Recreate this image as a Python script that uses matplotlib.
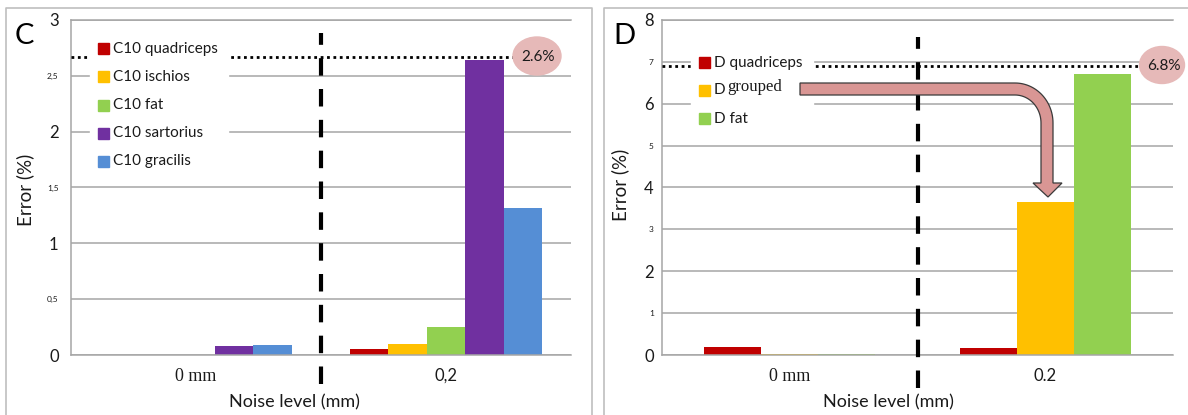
import numpy as np
import matplotlib.pyplot as plt
from matplotlib.patches import Rectangle, Ellipse, Polygon

# panel C data
groups_c = ["0 mm", "0,2"]
names_c = ["C10 quadriceps", "C10 ischios", "C10 fat", "C10 sartorius", "C10 gracilis"]
vals_c = [[0.0, 0.054],
          [0.0, 0.098],
          [0.0, 0.253],
          [0.083, 2.64],
          [0.09, 1.32]]
cols_c = ["#C00000", "#FFC000", "#92D050", "#7030A0", "#558ED5"]
yt_c = [0, 0.5, 1, 1.5, 2, 2.5, 3]
ytl_c = ["0", "0,5", "1", "1,5", "2", "2,5", "3"]
ref_c, ref_c_txt = 2.67, "2.6%"

# panel D data
groups_d = ["0 mm", "0.2"]
names_d = ["D quadriceps", "D grouped", "D fat"]
vals_d = [[0.18, 0.17],
          [0.03, 3.66],
          [0.03, 6.72]]
cols_d = ["#C00000", "#FFC000", "#92D050"]
yt_d = [0, 1, 2, 3, 4, 5, 6, 7, 8]
ytl_d = ["0", "1", "2", "3", "4", "5", "6", "7", "8"]
ref_d, ref_d_txt = 6.89, "6.8%"

W, H = 1188, 415
plt.rcParams['font.family'] = ['Lato', 'DejaVu Sans']
fig = plt.figure(figsize=(W / 100, H / 100), dpi=100)

grid_col = "#A6A6A6"
txt_col = "#1a1a1a"


def setup(ax, groups, yt, ytl, top, big_every, pad, serif_first):
    ax.set_xlim(-0.5, 1.5)
    ax.set_ylim(0, top)
    ax.set_axisbelow(True)
    ax.yaxis.grid(True, color=grid_col, lw=1.1)
    for s in ["top", "right"]:
        ax.spines[s].set_visible(False)
    for s in ["left", "bottom"]:
        ax.spines[s].set_color(grid_col)
        ax.spines[s].set_linewidth(1.1)
    ax.axhline(top, color=grid_col, lw=1.1, clip_on=False)
    ax.tick_params(length=0)
    ax.set_yticks(yt)
    ax.set_yticklabels(ytl)
    ax.tick_params(axis="y", pad=pad)
    for i, lab in enumerate(ax.get_yticklabels()):
        lab.set_color(txt_col)
        lab.set_fontsize(12 if i % big_every == 0 else 6)
    ax.set_xticks([0, 1])
    ax.set_xticklabels(groups)
    ax.tick_params(axis="x", pad=9)
    for i, lab in enumerate(ax.get_xticklabels()):
        lab.set_fontsize(12)
        lab.set_color(txt_col)
        if i == 0 and serif_first:
            lab.set_family("Liberation Serif")
            lab.set_fontsize(13)


# ---- panel C
axC = fig.add_axes([70.5 / W, 1 - 355 / H, 500.5 / W, 335 / H])
w = 0.154
for i in range(len(names_c)):
    axC.bar(np.arange(2) + (i - 2) * w, vals_c[i], w, color=cols_c[i], zorder=2)
setup(axC, groups_c, yt_c, ytl_c, 3, 2, 8.5, True)
axC.plot([0.5, 0.5], [-0.26, 2.88], color="k", lw=3, ls=(0, (4.2, 3.2)),
         clip_on=False, zorder=3)
axC.plot([-0.5, 1.27], [ref_c, ref_c], color="k", lw=2, ls=(0, (1, 1.3)),
         clip_on=False, zorder=3)
axC.text(0.447, -0.14, "Noise level (mm)", transform=axC.transAxes,
         ha="center", va="center", fontsize=13, color=txt_col)

# ---- panel D
axD = fig.add_axes([662 / W, 1 - 355 / H, 511 / W, 335 / H])
w = 0.223
for i in range(len(names_d)):
    axD.bar(np.arange(2) + (i - 1) * w, vals_d[i], w, color=cols_d[i], zorder=2)
setup(axD, groups_d, yt_d, ytl_d, 8, 2, 6, True)
axD.plot([0.5, 0.5], [-0.79, 7.59], color="k", lw=3, ls=(0, (4.2, 3.2)),
         clip_on=False, zorder=3)
axD.plot([-0.5, 1.43], [ref_d, ref_d], color="k", lw=2, ls=(0, (1, 1.3)),
         clip_on=False, zorder=3)
axD.text(0.444, -0.14, "Noise level (mm)", transform=axD.transAxes,
         ha="center", va="center", fontsize=13, color=txt_col)

# ---- overlay in pixel coordinates for legends, frames and callouts
ov = fig.add_axes([0, 0, 1, 1], zorder=5)
ov.set_xlim(0, W)
ov.set_ylim(H, 0)
ov.axis("off")
ov.patch.set_visible(False)

# panel frames
ov.plot([6, 6, 592, 592], [430, 8, 8, 430], color="#BFBFBF", lw=1.2)
ov.plot([604, 604, 1200], [430, 8, 8], color="#BFBFBF", lw=1.2)

# panel letters and y labels
ov.text(24, 36, "C", fontsize=21, ha="center", va="center", color="k")
ov.text(624, 36, "D", fontsize=21, ha="center", va="center", color="k")
ov.text(25, 190, "Error (%)", rotation=90, fontsize=13.5, ha="center",
        va="center", color=txt_col)
ov.text(620, 185, "Error (%)", rotation=90, fontsize=13.5, ha="center",
        va="center", color=txt_col)

# legend C
ov.add_patch(Rectangle((90, 34), 138, 140, color="white", zorder=1))
for i, nm in enumerate(names_c):
    yy = 48.5 + 28 * i
    ov.add_patch(Rectangle((98, yy - 5), 11, 11, color=cols_c[i], zorder=2))
    ov.text(113, yy + 0.5, nm, fontsize=11, va="center", color=txt_col, zorder=2)

# legend D ("grouped" is set in a serif face, slightly raised)
ov.add_patch(Rectangle((691, 46), 122, 84, color="white", zorder=1))
for i, nm in enumerate(names_d):
    yy = 62 + 28 * i
    ov.add_patch(Rectangle((699, yy - 5), 11, 11, color=cols_d[i], zorder=2))
    first, rest = nm.split(" ", 1)
    if rest == "grouped":
        ov.text(714, yy + 0.5, first, fontsize=11, va="center", color=txt_col,
                zorder=2)
        ov.text(727, yy - 3, rest, fontsize=12, va="center", color=txt_col,
                family="Liberation Serif", zorder=2)
    else:
        ov.text(714, yy + 0.5, nm, fontsize=11, va="center", color=txt_col,
                zorder=2)

# reference bubbles
ov.add_patch(Ellipse((537, 56), 48, 38, color="#E6B9B8", zorder=3))
ov.text(538, 57, ref_c_txt, fontsize=11, ha="center", va="center",
        color=txt_col, zorder=4)
ov.add_patch(Ellipse((1162, 65), 45, 37, color="#E6B9B8", zorder=3))
ov.text(1164, 66, ref_d_txt, fontsize=11, ha="center", va="center",
        color=txt_col, zorder=4)

# bent arrow from legend to grouped bar
t = np.linspace(0, np.pi / 2, 30)
cx, cy = 1015, 123
outer = np.c_[cx + 38 * np.sin(t), cy - 40 * np.cos(t)]
inner = np.c_[cx + 26 * np.sin(t), cy - 28 * np.cos(t)][::-1]
pts = np.vstack([[[800, 83]], outer,
                 [[1053, 183], [1062, 183], [1048, 197], [1033, 183], [1041, 183]],
                 inner, [[800, 95]]])
ov.add_patch(Polygon(pts, closed=True, facecolor="#D99694", edgecolor="#3a3a3a",
                     lw=0.9, zorder=4))

fig.savefig("out.png", dpi=100)
